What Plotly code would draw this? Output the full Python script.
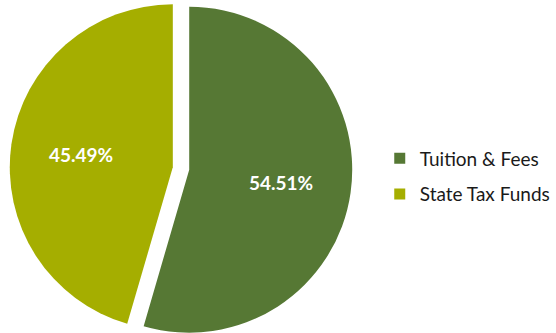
import math
import plotly.graph_objects as go

labels = ["Tuition & Fees", "State Tax Funds"]
values = [54.51, 45.49]
colors = ["#567834", "#A5AE00"]

W, H = 556, 333
cx, cy, R = 181.0, 168.5, 163.0   # base pie centre (px from left/top) and radius
explode = 8.3                      # px each slice is pulled out
label_r = 0.57                     # data-label distance as a fraction of radius

fig = go.Figure()
annotations = []
total = sum(values)
start = 0.0
for i, (lab, val, col) in enumerate(zip(labels, values, colors)):
    mid = (start + val / 2) / total * 2 * math.pi
    start += val
    px = cx + explode * math.sin(mid)
    py = cy - explode * math.cos(mid)
    slice_colors = ["rgba(0,0,0,0)"] * len(values)
    slice_colors[i] = col
    fig.add_trace(go.Pie(
        labels=labels, values=values, sort=False, direction="clockwise", rotation=0,
        marker=dict(colors=slice_colors, line=dict(width=0)),
        textinfo="none", showlegend=False, hoverinfo="skip",
        domain=dict(x=[(px - R) / W, (px + R) / W],
                    y=[(H - py - R) / H, (H - py + R) / H]),
    ))
    lx = px + label_r * R * math.sin(mid)
    ly = py - label_r * R * math.cos(mid)
    annotations.append(dict(
        x=lx / W, y=(H - ly) / H, xref="paper", yref="paper",
        text=f"<b>{val:.2f}%</b>", showarrow=False,
        font=dict(family="Lato", size=19, color="white"),
        xanchor="center", yanchor="middle",
    ))

for i, (lab, col) in enumerate(zip(labels, colors)):
    fig.add_trace(go.Scatter(
        x=[None], y=[None], mode="markers", name=lab, legendgroup=lab,
        marker=dict(symbol="square", size=11, color=col),
    ))

fig.update_layout(
    width=W, height=H, margin=dict(l=0, r=0, t=0, b=0),
    paper_bgcolor="white", plot_bgcolor="white",
    xaxis=dict(visible=False), yaxis=dict(visible=False),
    annotations=annotations,
    legend=dict(x=0.683, y=0.47, xanchor="left", yanchor="middle",
                font=dict(family="Lato", size=19, color="#1a1a1a"),
                tracegroupgap=8, itemwidth=30, bgcolor="rgba(0,0,0,0)"),
)
fig.write_html("out.html", config={"displayModeBar": False},
               post_script="document.body.style.margin='0';")
